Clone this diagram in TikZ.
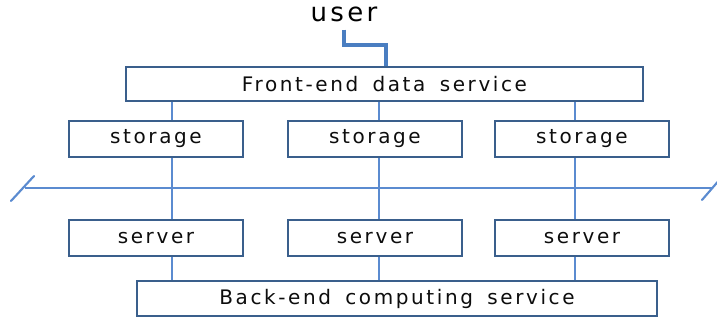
\documentclass[tikz,border=0pt]{standalone}
\usepackage{fontspec}
\setsansfont{DejaVu Sans}
\newfontfamily\lblfont[LetterSpace=13,WordSpace=1.6]{DejaVu Sans}
\usetikzlibrary{positioning,calc}
\definecolor{boxBorder}{HTML}{3A5F8C}
\definecolor{linkBlue}{HTML}{5B8BD0}
\definecolor{userBlue}{HTML}{4A7EC1}

\begin{document}
\begin{tikzpicture}[x=0.75pt, y=-0.75pt,
    svcbox/.style={
      rectangle, draw=boxBorder, fill=white, line width=2pt,
      inner sep=0pt, font=\lblfont\fontsize{15}{17}\selectfont,
      text=black!95
    },
    tierbox/.style={svcbox, minimum width=174*0.75pt, minimum height=36*0.75pt},
    link/.style={draw=linkBlue, line width=1pt},
    userlink/.style={draw=userBlue, line width=2.3pt}
  ]
    \useasboundingbox (0,0) rectangle (717,320);

    \node[font=\lblfont\fontsize{19.5}{21}\selectfont, text=black, inner ysep=6pt] (user) at (344,14) {user};
    \node[svcbox, minimum width=517*0.75pt, minimum height=34*0.75pt] (front) at (384.5,84) {Front-end data service};

    \node[tierbox] (store1) at (156,139) {storage};
    \node[tierbox] (store2) at (375,139) {storage};
    \node[tierbox] (store3) at (582,139) {storage};

    \node[tierbox] (serv1) at (156,238) {server};
    \node[tierbox] (serv2) at (375,238) {server};
    \node[tierbox] (serv3) at (582,238) {server};

    \node[svcbox, minimum width=520*0.75pt, minimum height=35*0.75pt] (back) at (397,298.5) {Back-end computing service};

    \coordinate (bend) at (386,45);
    \coordinate (col1) at (172,0);
    \coordinate (col2) at (379,0);
    \coordinate (col3) at (575,0);
    \coordinate (busL) at (25,188);
    \coordinate (busR) at (712,188);

    \draw[userlink] (user.south) |- (bend) -- (bend |- front.north);

    \foreach \c/\s/\v in {col1/store1/serv1, col2/store2/serv2, col3/store3/serv3} {
      \draw[link] (\c |- front.south) -- (\c |- \s.north);
      \draw[link] (\c |- \s.south) -- (\c |- \v.north);
      \draw[link] (\c |- \v.south) -- (\c |- back.north);
    }

    \draw[link] (busL) -- (busR);
    \draw[link, line width=1.6pt, line cap=round] ($(busL)+(-14,13)$) -- ($(busL)+(9,-12)$);
    \draw[link, line width=1.6pt, line cap=round] ($(busR)+(-10,12)$) -- ($(busR)+(9,-10)$);
  \end{tikzpicture}
\end{document}
